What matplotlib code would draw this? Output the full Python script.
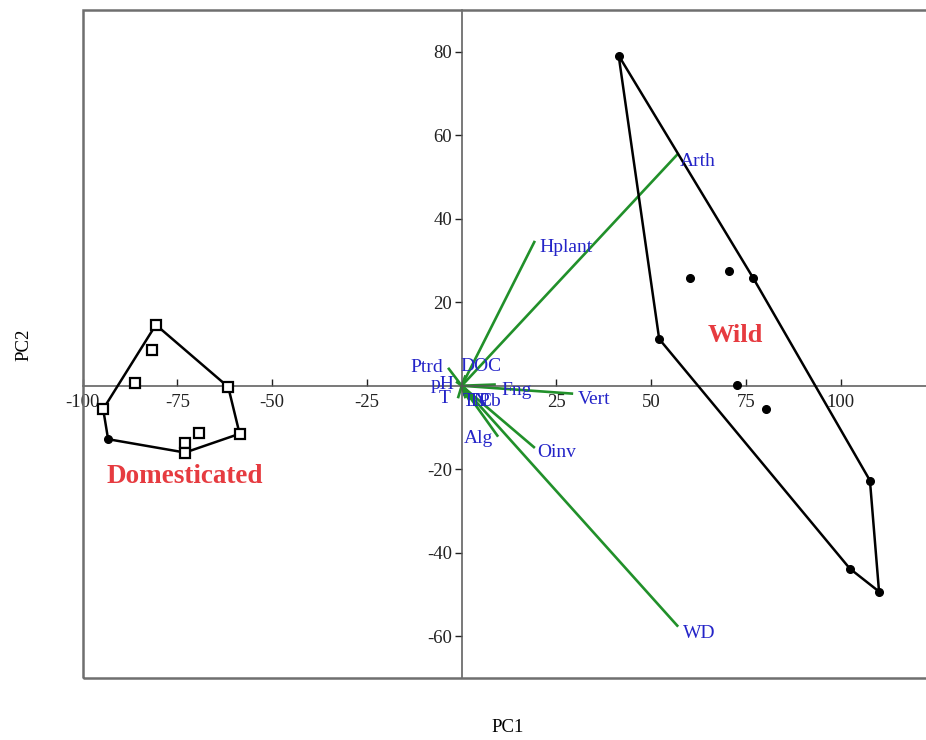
import matplotlib.pyplot as plt
from matplotlib.patches import Rectangle

plt.rcParams["axes.unicode_minus"] = False

# Domesticated samples (open squares) and extra point (filled dot)
dom_x = [-80.7, -81.6, -86.2, -61.6, -94.6, -58.6, -69.3, -73.0, -73.0]
dom_y = [14.6, 8.5, 0.6, -0.3, -5.6, -11.5, -11.3, -13.6, -16.0]
dom_dot_x = [-93.3]
dom_dot_y = [-12.8]
# hull of the domesticated group
dom_hull_x = [-80.7, -61.6, -58.6, -73.0, -93.3, -94.6, -80.7]
dom_hull_y = [14.6, -0.3, -11.5, -16.0, -12.8, -5.6, 14.6]

# Wild samples (filled dots)
wild_x = [41.4, 76.9, 60.2, 70.5, 52.1, 72.6, 80.2, 107.7, 102.4, 110.1]
wild_y = [79.1, 25.8, 25.8, 27.6, 11.2, 0.2, -5.6, -22.7, -43.8, -49.3]
wild_hull_x = [41.4, 76.9, 107.7, 110.1, 102.4, 52.1, 41.4]
wild_hull_y = [79.1, 25.8, -22.7, -49.3, -43.8, 11.2, 79.1]

# loading vectors
vec_names = ["Arth", "Hplant", "WD", "Oinv", "Vert", "Fng", "Alg",
             "Ptrd", "DOC", "pH", "T", "TN", "TP", "Cb"]
vec_x = [57.2, 19.3, 57.1, 19.3, 29.4, 9.0, 9.6, -3.6, 1.0, -1.5, -1.0, 1.0, 2.0, 3.5]
vec_y = [55.7, 34.7, -57.7, -14.9, -1.9, 0.3, -12.2, 4.3, 2.5, 1.0, -3.0, -3.0, -3.5, -3.0]

# label offsets (points) and alignment
label_style = {
    "Arth": ((1, -6), "left"),
    "Hplant": ((3, -5), "left"),
    "WD": ((3.5, -5), "left"),
    "Oinv": ((2, -3.5), "left"),
    "Vert": ((3.5, -4.5), "left"),
    "Fng": ((4, -4), "left"),
    "Alg": ((-25, -1), "left"),
    "Ptrd": ((-3.5, 0), "right"),
    "DOC": ((-4, 6), "left"),
    "pH": ((-1, -2), "right"),
    "T": ((-5, 0), "right"),
    "TN": ((-2, -2.5), "left"),
    "TP": ((-1, -1), "left"),
    "Cb": ((2, -2.5), "left"),
}

serif = ["Liberation Serif", "DejaVu Serif"]
blue = "#2424c8"
green = "#21902a"
red = "#e63b40"

fig = plt.figure(figsize=(9.26, 7.40), dpi=100)
ax = fig.add_axes([82.7 / 926, 62 / 740, (935.5 - 82.7) / 926, 668 / 740])
ax.set_xlim(-100, 125)
ax.set_ylim(-70, 90)

# centered axes
for s in ["top", "right"]:
    ax.spines[s].set_visible(False)
ax.spines["left"].set_position(("data", 0))
ax.spines["bottom"].set_position(("data", 0))
for s in ["left", "bottom"]:
    ax.spines[s].set_color("#555555")
    ax.spines[s].set_linewidth(1.1)
ax.add_patch(Rectangle((0, 0), 1, 1, transform=ax.transAxes, fill=False,
                       ec="#6f6f6f", lw=1.8, clip_on=False, zorder=5))

ax.set_xticks([-100, -75, -50, -25, 25, 50, 75, 100])
ax.set_yticks([-60, -40, -20, 20, 40, 60, 80])
ax.tick_params(axis="x", direction="in", length=5, width=1, pad=6,
               colors="#222222", labelsize=13.5)
ax.tick_params(axis="y", direction="out", length=5, width=1, pad=2,
               colors="#222222", labelsize=13.5)
for lab in ax.get_xticklabels() + ax.get_yticklabels():
    lab.set_family(serif)

# vectors
for name, x, y in zip(vec_names, vec_x, vec_y):
    ax.plot([0, x], [0, y], color=green, lw=1.9, zorder=2, solid_capstyle="butt")
for name, x, y in zip(vec_names, vec_x, vec_y):
    off, ha = label_style[name]
    ax.annotate(name, (x, y), xytext=off, textcoords="offset points",
                ha=ha, va="center", color=blue, fontsize=14, family=serif, zorder=4)

# hulls and points
ax.plot(dom_hull_x, dom_hull_y, color="black", lw=1.8, zorder=3)
ax.plot(wild_hull_x, wild_hull_y, color="black", lw=1.8, zorder=3)
ax.plot(dom_x, dom_y, ls="none", marker="s", ms=7, mfc="white", mec="black",
        mew=1.6, zorder=4)
ax.plot(dom_dot_x, dom_dot_y, ls="none", marker="o", ms=5.5, color="black", zorder=4)
ax.plot(wild_x, wild_y, ls="none", marker="o", ms=5.5, color="black", zorder=4)

# group labels
ax.text(72.1, 12.0, "Wild", color=red, fontsize=19, fontweight="bold",
        family=serif, ha="center", va="center")
ax.text(-73.1, -21.8, "Domesticated", color=red, fontsize=19.5, fontweight="bold",
        family=serif, ha="center", va="center")

fig.text(508 / 926, 1 - 727 / 740, "PC1", ha="center", va="center",
         fontsize=13.5, family=serif)
fig.text(24 / 926, 1 - 345 / 740, "PC2", ha="center", va="center",
         rotation=90, fontsize=13.5, family=serif)

fig.savefig("out.png", dpi=100)
